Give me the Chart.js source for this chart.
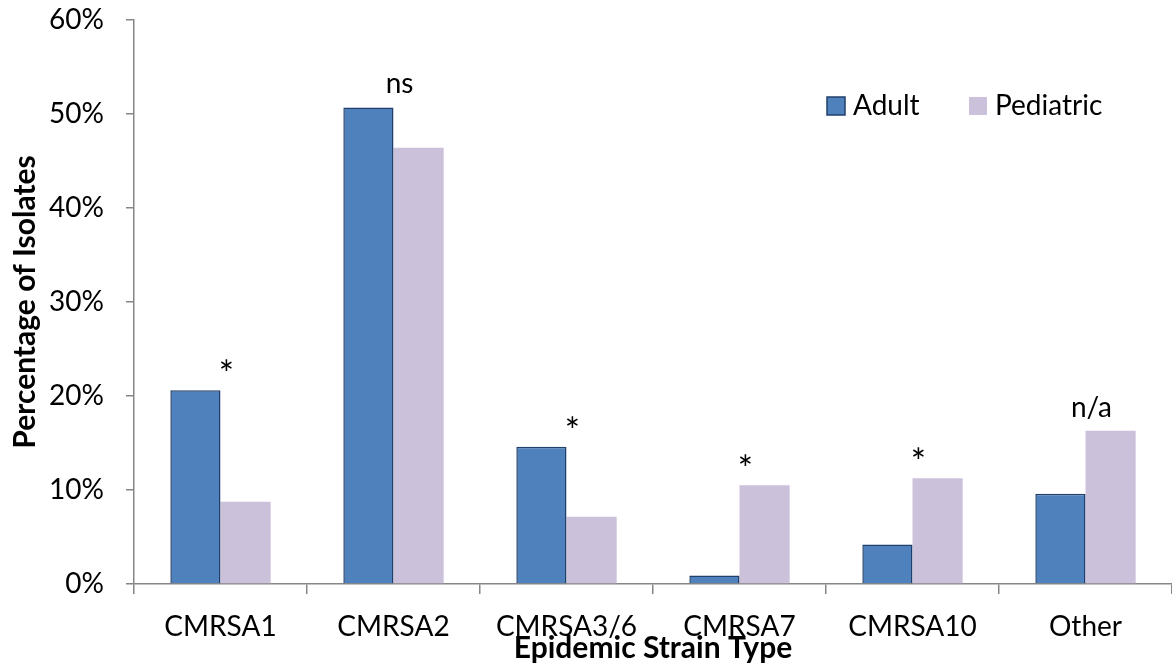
<!DOCTYPE html>
<html>
<head>
<meta charset="utf-8">
<script src="https://cdn.jsdelivr.net/npm/chart.js@4/dist/chart.umd.min.js"></script>
<style>
  html, body { margin: 0; padding: 0; background: #fff; }
  #wrap { width: 1172px; height: 666px; position: relative; }
</style>
</head>
<body>
<div id="wrap"><canvas id="barChart"></canvas></div>
<script>
// values (percent of isolates)
const strains = ['CMRSA1', 'CMRSA2', 'CMRSA3/6', 'CMRSA7', 'CMRSA10', 'Other'];
const adult = [20.6, 50.7, 14.6, 0.9, 4.2, 9.6];
const pediatric = [8.75, 46.4, 7.15, 10.5, 11.25, 16.3];
const sigLabels = ['*', 'ns', '*', '*', '*', 'n/a'];
const yTicks = [0, 10, 20, 30, 40, 50, 60];

const FONT = 'Lato, "Open Sans", sans-serif';
const axisGray = '#868686';

// significance markers above each pair of bars
const sigPlugin = {
    id: 'sigLabels',
    afterDatasetsDraw(chart) {
        const ctx = chart.ctx;
        const x = chart.scales.x, y = chart.scales.y;
        ctx.save();
        ctx.fillStyle = '#000';
        ctx.textAlign = 'center';
        ctx.textBaseline = 'alphabetic';
        sigLabels.forEach((lab, i) => {
            const top = y.getPixelForValue(Math.max(adult[i], pediatric[i]));
            const star = lab === '*';
            ctx.font = (star ? '36px ' : '28px ') + FONT;
            ctx.fillText(lab, x.getPixelForValue(i) + 6, top - (star ? 3 : 14));
        });
        ctx.restore();
    }
};

// legend drawn inside the plot like the original
const legendPlugin = {
    id: 'innerLegend',
    afterDraw(chart) {
        const ctx = chart.ctx;
        const items = [[827, 853], [969, 995]];
        ctx.save();
        ctx.font = '28px ' + FONT;
        ctx.textBaseline = 'middle';
        ctx.textAlign = 'left';
        chart.data.datasets.forEach((ds, i) => {
            const [bx, tx] = items[i];
            ctx.fillStyle = ds.backgroundColor;
            ctx.fillRect(bx, 97, 18, 18);
            if (ds.borderWidth) {
                ctx.strokeStyle = ds.borderColor;
                ctx.lineWidth = 1.5;
                ctx.strokeRect(bx, 97, 18, 18);
            }
            ctx.fillStyle = '#000';
            ctx.fillText(ds.label, tx, 106);
        });
        ctx.restore();
    }
};

const ctx = document.getElementById('barChart').getContext('2d');
const chart = new Chart(ctx, {
    type: 'bar',
    data: {
        labels: strains,
        datasets: [
            {
                label: 'Adult',
                data: adult,
                backgroundColor: '#4F81BD',
                borderColor: '#213f6b',
                borderWidth: 1.5,
                borderSkipped: 'bottom'
            },
            {
                label: 'Pediatric',
                data: pediatric,
                backgroundColor: '#CCC1DA',
                borderWidth: 0
            }
        ]
    },
    options: {
        responsive: true,
        maintainAspectRatio: false,
        animation: false,
        layout: { padding: { top: 20, right: 0, bottom: 0, left: 0 } },
        datasets: { bar: { categoryPercentage: 0.58, barPercentage: 1 } },
        plugins: {
            legend: { display: false },
            tooltip: { enabled: false }
        },
        scales: {
            x: {
                grid: {
                    display: true,
                    drawOnChartArea: false,
                    drawTicks: true,
                    tickLength: 10,
                    color: axisGray,
                    lineWidth: 1.5,
                    offset: true
                },
                border: { color: axisGray, width: 1.5 },
                ticks: {
                    color: '#000',
                    font: { family: FONT, size: 28 },
                    padding: 16,
                    maxRotation: 0,
                    autoSkip: false
                },
                title: {
                    display: true,
                    text: 'Epidemic Strain Type',
                    color: '#000',
                    font: { family: FONT, size: 30, weight: 'bold' },
                    padding: { top: 0, bottom: 0 }
                },
                afterFit(scale) {
                    scale.height = 82;
                    scale.paddingLeft = 0;
                    scale.paddingRight = 0;
                }
            },
            y: {
                min: 0,
                max: 60,
                afterBuildTicks(scale) { scale.ticks = yTicks.map(v => ({ value: v })); },
                grid: {
                    display: true,
                    drawOnChartArea: false,
                    drawTicks: true,
                    tickLength: 8,
                    color: axisGray,
                    lineWidth: 1.5
                },
                border: { color: axisGray, width: 1.5 },
                ticks: {
                    color: '#000',
                    font: { family: FONT, size: 28 },
                    padding: 22,
                    callback: v => v + '%'
                },
                title: {
                    display: true,
                    text: 'Percentage of Isolates',
                    color: '#000',
                    font: { family: FONT, size: 30, weight: 'bold' },
                    padding: { top: 7, bottom: 0 }
                },
                afterFit(scale) {
                    scale.width = 134;
                    scale.paddingTop = 0;
                    scale.paddingBottom = 0;
                }
            }
        }
    },
    plugins: [sigPlugin, legendPlugin]
});
</script>
</body>
</html>
